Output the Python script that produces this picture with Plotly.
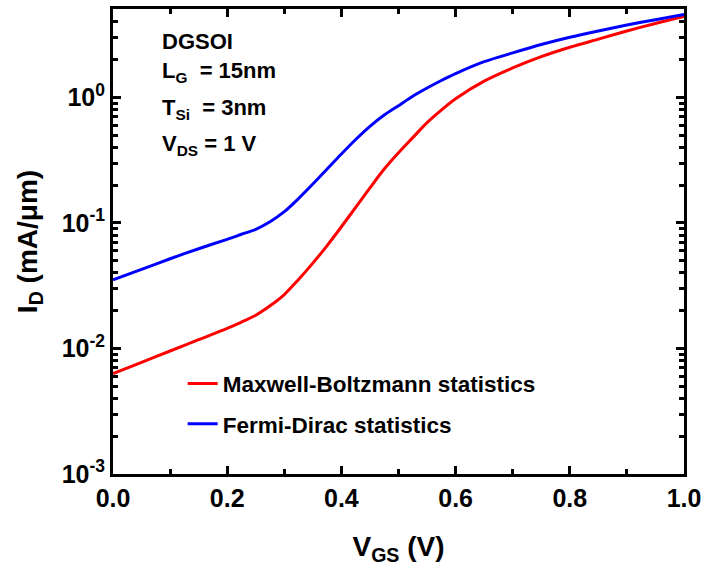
import plotly.graph_objects as go

vgs = [0.00, 0.05, 0.10, 0.15, 0.20, 0.225, 0.25, 0.275, 0.30, 0.325, 0.35, 0.375,
       0.40, 0.425, 0.45, 0.475, 0.50, 0.525, 0.55, 0.575, 0.60,
       0.65, 0.70, 0.75, 0.80, 0.85, 0.90, 0.95, 1.00]
id_mb = [0.00631, 0.00776, 0.00955, 0.01175, 0.01445, 0.01622, 0.01841, 0.02188,
         0.02692, 0.03548, 0.04786, 0.06607, 0.09333, 0.1334, 0.1905, 0.2692,
         0.3631, 0.4786, 0.6310, 0.7943, 0.9772, 1.349, 1.718, 2.113, 2.512,
         2.917, 3.388, 3.890, 4.416]
id_fd = [0.03516, 0.04266, 0.05188, 0.06237, 0.07413, 0.08128, 0.08913, 0.1023,
         0.1230, 0.1567, 0.2042, 0.2692, 0.3548, 0.4624, 0.5888, 0.7244,
         0.8610, 1.023, 1.189, 1.365, 1.549, 1.928, 2.265, 2.642, 3.020,
         3.388, 3.776, 4.169, 4.592]
series_names = ["Maxwell-Boltzmann statistics", "Fermi-Dirac statistics"]
x_ticks = [0.0, 0.2, 0.4, 0.6, 0.8, 1.0]
x_tick_labels = ["0.0", "0.2", "0.4", "0.6", "0.8", "1.0"]
y_ticks = [1e-3, 1e-2, 1e-1, 1e0]
y_tick_labels = ["10<sup>-3</sup>", "10<sup>-2</sup>", "10<sup>-1</sup>", "10<sup>0</sup>"]
y_minor = [m * d for d in [1e-3, 1e-2, 1e-1, 1e0] for m in range(2, 10)]
info_lines = ["DGSOI", "L<sub>G</sub>  = 15nm", "T<sub>Si</sub>  = 3nm", "V<sub>DS</sub> = 1 V"]
info_y = [0.931, 0.865, 0.784, 0.707]

FONT = "Liberation Sans, Arial, sans-serif"

fig = go.Figure()
fig.add_trace(go.Scatter(x=vgs, y=id_mb, mode="lines", name="<b>%s</b>" % series_names[0],
                         line=dict(color="#ff0000", width=3, shape="spline", smoothing=0.8),
                         legendgroup="a"))
fig.add_trace(go.Scatter(x=vgs, y=id_fd, mode="lines", name="<b>%s</b>" % series_names[1],
                         line=dict(color="#0000ff", width=3, shape="spline", smoothing=0.8),
                         legendgroup="b"))

axis_common = dict(showline=True, linecolor="black", linewidth=3, mirror="allticks",
                   ticks="inside", tickcolor="black", tickwidth=3, ticklen=8,
                   showgrid=False, zeroline=False,
                   tickfont=dict(family=FONT, size=25, color="black"))

fig.update_xaxes(range=[0, 1.0], tickmode="array", tickvals=x_ticks,
                 ticktext=["<b>%s</b>" % t for t in x_tick_labels],
                 minor=dict(ticks="inside", dtick=0.1, ticklen=5, tickwidth=3, tickcolor="black"),
                 title=dict(text="<b>V<sub>GS</sub> (V)</b>", font=dict(family=FONT, size=28, color="black"),
                            standoff=26),
                 **axis_common)
fig.update_yaxes(type="log", range=[-3, 0.705], tickmode="array", tickvals=y_ticks,
                 ticktext=["<b>%s</b>" % t for t in y_tick_labels],
                 minor=dict(ticks="inside", tickvals=y_minor, ticklen=5, tickwidth=3, tickcolor="black"),
                 title=dict(text="<b>I<sub>D</sub> (mA/μm)</b>", font=dict(family=FONT, size=28, color="black"),
                            standoff=16),
                 **axis_common)

for t, yy in zip(info_lines, info_y):
    fig.add_annotation(xref="paper", yref="paper", x=0.083, y=yy,
                       text="<b>%s</b>" % t, showarrow=False, xanchor="left", yanchor="middle",
                       font=dict(family=FONT, size=22, color="black"))

fig.update_layout(
    width=707, height=577,
    margin=dict(l=113, r=19, t=6, b=103),
    plot_bgcolor="white", paper_bgcolor="white",
    showlegend=True,
    legend=dict(x=0.122, y=0.24, xanchor="left", yanchor="top", bgcolor="rgba(0,0,0,0)",
                font=dict(family=FONT, size=22.5, color="black"), tracegroupgap=8,
                itemwidth=30),
)

fig.write_html("out.html")
